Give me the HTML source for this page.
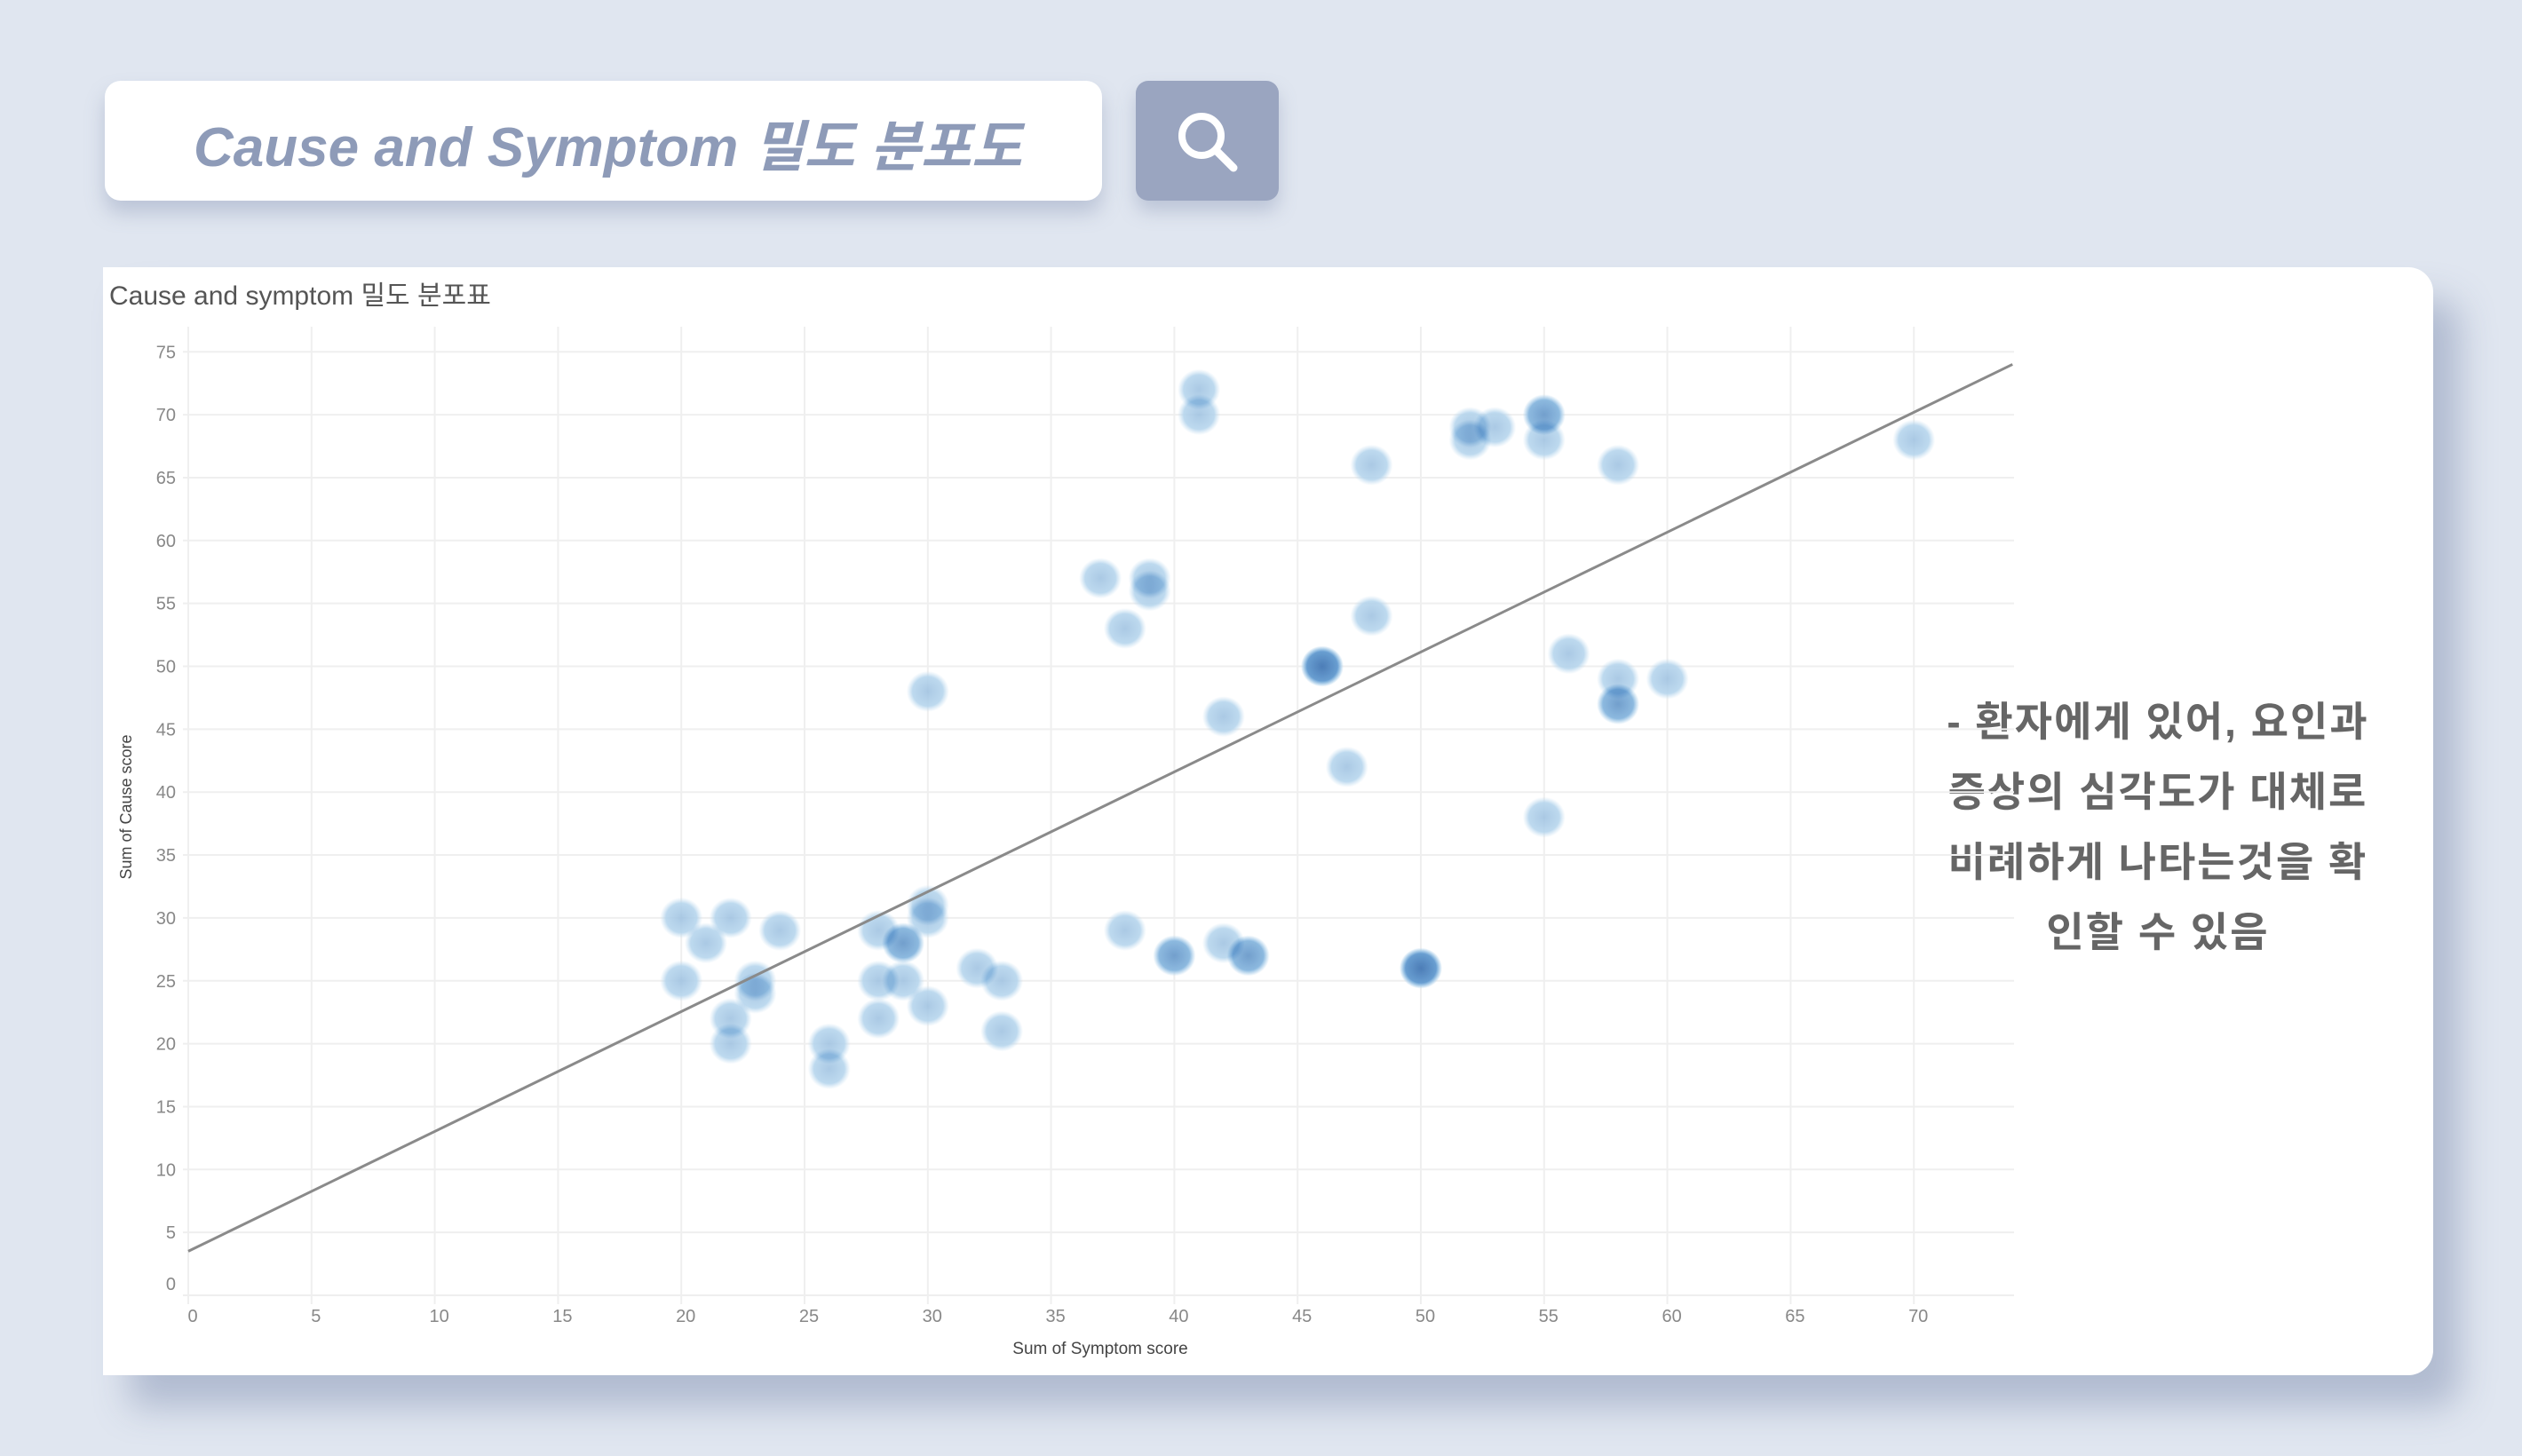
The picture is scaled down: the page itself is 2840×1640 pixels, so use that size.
<!DOCTYPE html>
<html><head><meta charset="utf-8">
<style>
html,body{margin:0;padding:0;}
body{width:2840px;height:1640px;background:#e0e6f0;position:relative;overflow:hidden;font-family:"Liberation Sans","Noto Sans CJK KR",sans-serif;}
#search{position:absolute;left:118px;top:91px;width:1123px;height:135px;background:#fff;border-radius:18px;box-shadow:0 14px 22px rgba(120,135,170,.35);}
#search span{position:absolute;left:100px;top:24px;font-size:62px;font-style:italic;font-weight:bold;color:#8e9bb8;white-space:nowrap;}
#btn{position:absolute;left:1279px;top:91px;width:161px;height:135px;background:#9aa5c0;border-radius:14px;box-shadow:0 12px 20px rgba(120,135,170,.35);}
#card{position:absolute;left:116px;top:301px;width:2624px;height:1248px;background:#fff;border-radius:0 28px 28px 0;box-shadow:30px 36px 40px rgba(120,135,170,.45);}
#title{position:absolute;left:123px;top:308px;font-size:30px;color:#555;white-space:nowrap;}
#note{position:absolute;left:2160px;top:774px;width:540px;text-align:center;font-size:46px;letter-spacing:2px;font-weight:bold;color:#666;line-height:79px;white-space:nowrap;}
svg{position:absolute;left:0;top:0;}
</style></head><body>
<div id="search"><span>Cause and Symptom 밀도 분포도</span></div>
<div id="btn">
<svg width="161" height="135"><circle cx="74" cy="62" r="22" fill="none" stroke="#fff" stroke-width="8"/><line x1="90" y1="78" x2="110" y2="98" stroke="#fff" stroke-width="9" stroke-linecap="round"/></svg>
</div>
<div id="card"></div>
<div id="title">Cause and symptom 밀도 분포표</div>
<div id="note">- 환자에게 있어, 요인과<br>증상의 심각도가 대체로<br>비례하게 나타는것을 확<br>인할 수 있음</div>
<svg id="chart" width="2840" height="1640">
<defs>
<radialGradient id="dot"><stop offset="0" stop-color="#9cc0e0" stop-opacity=".85"/><stop offset=".72" stop-color="#b2d3ec" stop-opacity=".85"/><stop offset="1" stop-color="#c4def1" stop-opacity="0"/></radialGradient>
</defs>
<g id="grid"></g><g id="ticks"></g><g id="pts" style="isolation:isolate"></g><g id="trend"></g>
</svg>
<script>
const xTicks=[0,5,10,15,20,25,30,35,40,45,50,55,60,65,70];
const yTicks=[0,5,10,15,20,25,30,35,40,45,50,55,60,65,70,75];
const symptomScores=[41,41,52,52,53,55,55,55,48,58,70,37,39,39,38,48,46,46,46,30,42,56,58,60,58,58,47,55,20,22,21,24,20,23,23,22,22,26,26,28,29,29,30,30,28,29,28,30,32,33,33,38,40,40,42,43,43,50,50,50];
const causeScores=[72,70,69,68,69,70,70,68,66,66,68,57,57,56,53,54,50,50,50,48,46,51,49,49,47,47,42,38,30,30,28,29,25,25,24,22,20,20,18,29,28,28,31,30,25,25,22,23,26,25,21,29,27,27,28,27,27,26,26,26];
const trendStart=[0,3.5];
const trendEnd=[74,74];
const NS='http://www.w3.org/2000/svg';
const X0=212,XU=27.76,Y0=1459,YU=14.17;
function sx(v){return X0+v*XU;}
function sy(v){return Y0-v*YU;}
function mk(tag,parent,attrs){const e=document.createElementNS(NS,tag);for(const k in attrs)e.setAttribute(k,attrs[k]);parent.appendChild(e);return e;}
const grid=document.getElementById('grid'),ticks=document.getElementById('ticks');
xTicks.forEach(t=>{
 const l=mk('line',grid,{x1:sx(t),x2:sx(t),y1:368,y2:Y0+10,stroke:'#efefef','stroke-width':2});
 
 
 const tx=mk('text',ticks,{x:sx(t)+5,y:1489,'font-size':20,fill:'#888','text-anchor':'middle','font-family':'Liberation Sans, sans-serif'});
 tx.textContent=t;
 
 
});
yTicks.forEach(t=>{
 const l=mk('line',grid,{x1:X0-6,x2:2268,y1:sy(t),y2:sy(t),stroke:'#efefef','stroke-width':2});
 
 
 const tx=mk('text',ticks,{x:198,y:(t===0?sy(t)-6:sy(t)+7),'font-size':20,fill:'#888','text-anchor':'end','font-family':'Liberation Sans, sans-serif'});
 tx.textContent=t;
 
 
});
const xt=mk('text',ticks,{x:1239,y:1525,'font-size':19,fill:'#444','text-anchor':'middle','font-family':'Liberation Sans, sans-serif'});
xt.textContent='Sum of Symptom score';


const yt=mk('text',ticks,{x:0,y:0,'font-size':18,fill:'#444','text-anchor':'middle',transform:'translate(148,909) rotate(-90)','font-family':'Liberation Sans, sans-serif'});
yt.textContent='Sum of Cause score';


const pts=document.getElementById('pts');
symptomScores.forEach((s,i)=>{
 const c=mk('ellipse',pts,{cx:sx(s),cy:sy(causeScores[i]),rx:24,ry:23,fill:'url(#dot)',style:'mix-blend-mode:multiply'});
 
 
});
const tl=mk('line',document.getElementById('trend'),{x1:sx(trendStart[0]),y1:sy(trendStart[1]),x2:sx(trendEnd[0]),y2:sy(trendEnd[1]),stroke:'#8a8a8a','stroke-width':3});


</script>
</body></html>
